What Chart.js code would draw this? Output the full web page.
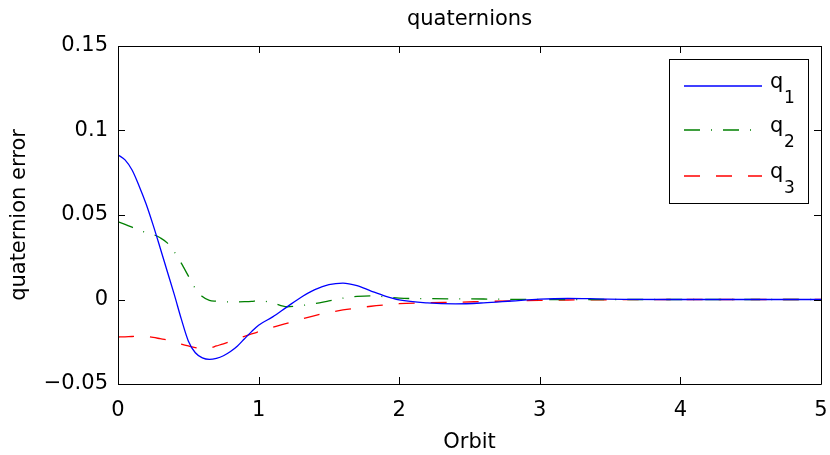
<!DOCTYPE html>
<html>
<head>
<meta charset="utf-8">
<script src="https://cdn.jsdelivr.net/npm/chart.js@4.4.1/dist/chart.umd.min.js"></script>
<style>
html,body{margin:0;padding:0;background:#fff;}
canvas{display:block;}
</style>
</head>
<body>
<canvas id="c" width="830" height="455"></canvas>
<script>
// ---- data ----
const orbit = [0,0.05,0.1,0.15,0.2,0.25,0.3,0.35,0.4,0.45,0.5,0.55,0.6,0.65,0.7,0.75,0.8,0.85,0.9,0.95,1.0,1.1,1.2,1.3,1.4,1.5,1.6,1.7,1.8,1.9,2.0,2.2,2.4,2.6,2.8,3.0,3.2,3.4,3.6,4.0,4.5,5.0];
const q1 = [0.0856,0.0826,0.0766,0.0672,0.0565,0.0440,0.0305,0.0167,0.0030,-0.0115,-0.0245,-0.0315,-0.0345,-0.0354,-0.0348,-0.0333,-0.0308,-0.0275,-0.0232,-0.0190,-0.0152,-0.0103,-0.0045,0.0012,0.0058,0.0088,0.0097,0.0082,0.0050,0.0020,-0.0002,-0.0020,-0.0026,-0.0020,-0.0009,0.0002,0.0006,0.0004,0.0001,0,0,0];
const q2 = [0.0460,0.0445,0.0428,0.0410,0.0396,0.0385,0.0365,0.0335,0.0282,0.0215,0.0140,0.0065,0.0018,-0.0005,-0.0010,-0.0014,-0.0014,-0.0014,-0.0013,-0.0011,-0.0007,-0.0020,-0.0043,-0.0036,-0.0024,-0.0008,0.0008,0.0018,0.0022,0.0016,0.0008,0.0005,0.0004,0.0003,0.0001,0,0,0,0,0,0,0];
const q3 = [-0.0222,-0.0221,-0.0219,-0.0218,-0.0219,-0.0224,-0.0232,-0.0240,-0.0252,-0.0264,-0.0275,-0.0285,-0.0291,-0.0288,-0.0275,-0.0262,-0.0248,-0.0233,-0.0218,-0.0204,-0.0191,-0.0165,-0.0141,-0.0117,-0.0095,-0.0077,-0.0062,-0.0050,-0.0040,-0.0032,-0.0025,-0.0019,-0.0016,-0.0012,-0.0008,-0.0005,-0.0003,-0.0002,-0.0001,0,0,0];
const xTicks = [0,1,2,3,4,5];
const yTicks = [-0.05,0,0.05,0.1,0.15];
const yTickLabels = ['\u22120.05','0','0.05','0.1','0.15'];
const seriesNames = ['q','q','q'];
const seriesSubs = ['1','2','3'];
const titleText = 'quaternions';
const xLabel = 'Orbit';
const yLabel = 'quaternion error';

const FONT = '"DejaVu Sans", sans-serif';
const colors = ['#0000ff','#008000','#ff0000'];
const dashes = [[],[16,11,1,11],[16,16]];

function pts(ys){ return orbit.map((t,i)=>({x:t,y:ys[i]})); }

const frame = {
  id:'frame',
  afterDraw(chart){
    const ctx = chart.ctx, a = chart.chartArea;
    const xs = chart.scales.x, ys = chart.scales.y;
    ctx.save();
    ctx.strokeStyle = '#000'; ctx.lineWidth = 1;
    ctx.beginPath();
    ctx.rect(Math.round(a.left)+0.5, Math.round(a.top)+0.5, Math.round(a.right-a.left), Math.round(a.bottom-a.top));
    ctx.stroke();
    const L = 7;
    ctx.beginPath();
    xTicks.forEach(v=>{
      const px = Math.round(xs.getPixelForValue(v))+0.5;
      ctx.moveTo(px,a.bottom); ctx.lineTo(px,a.bottom-L);
      ctx.moveTo(px,a.top); ctx.lineTo(px,a.top+L);
    });
    yTicks.forEach(v=>{
      const py = Math.round(ys.getPixelForValue(v))+0.5;
      ctx.moveTo(a.left,py); ctx.lineTo(a.left+L,py);
      ctx.moveTo(a.right,py); ctx.lineTo(a.right-L,py);
    });
    ctx.stroke();
    // title and axis labels
    ctx.fillStyle = '#000';
    ctx.textAlign = 'center';
    ctx.textBaseline = 'alphabetic';
    ctx.font = '21px ' + FONT;
    ctx.fillText(titleText, (a.left+a.right)/2, 25);
    ctx.fillText(xLabel, (a.left+a.right)/2, 448);
    ctx.save();
    ctx.translate(20,(a.top+a.bottom)/2);
    ctx.rotate(-Math.PI/2);
    ctx.textBaseline = 'middle';
    ctx.fillText(yLabel,0,0);
    ctx.restore();
    // legend
    const bx=669, by=59, bw=139, bh=144;
    ctx.fillStyle='#fff';
    ctx.fillRect(bx,by,bw,bh);
    ctx.strokeStyle='#000'; ctx.lineWidth=1;
    ctx.strokeRect(bx+0.5,by+0.5,bw,bh);
    const rows=[86,130,176];
    rows.forEach((ry,i)=>{
      ctx.strokeStyle=colors[i]; ctx.lineWidth=1.3;
      ctx.setLineDash(dashes[i]);
      ctx.beginPath(); ctx.moveTo(684,ry); ctx.lineTo(762,ry); ctx.stroke();
      ctx.setLineDash([]);
      ctx.fillStyle='#000'; ctx.textAlign='left'; ctx.textBaseline='alphabetic';
      ctx.font='21px '+FONT;
      ctx.fillText(seriesNames[i],770,ry+2);
      ctx.font='17px '+FONT;
      ctx.fillText(seriesSubs[i],784,ry+17);
    });
    ctx.restore();
  }
};

new Chart(document.getElementById('c'),{
  type:'line',
  data:{datasets:[
    {label:'q1',data:pts(q1),borderColor:colors[0],borderWidth:1.3,borderDash:dashes[0],pointRadius:0,cubicInterpolationMode:'monotone',fill:false},
    {label:'q2',data:pts(q2),borderColor:colors[1],borderWidth:1.3,borderDash:dashes[1],pointRadius:0,cubicInterpolationMode:'monotone',fill:false},
    {label:'q3',data:pts(q3),borderColor:colors[2],borderWidth:1.3,borderDash:dashes[2],pointRadius:0,cubicInterpolationMode:'monotone',fill:false}
  ]},
  options:{
    responsive:false, animation:false, devicePixelRatio:1,
    layout:{padding:{top:46,right:9,left:0,bottom:0}},
    plugins:{legend:{display:false},title:{display:false},tooltip:{enabled:false}},
    scales:{
      x:{type:'linear',min:0,max:5,
        afterBuildTicks(s){ s.ticks = xTicks.map(v=>({value:v})); },
        afterFit(s){ s.height = 71; s.paddingLeft = 0; s.paddingRight = 0; },
        grid:{display:false,drawTicks:false}, border:{display:false},
        ticks:{color:'#000',font:{family:FONT,size:21},padding:14,maxRotation:0,callback:v=>String(v)}},
      y:{type:'linear',min:-0.05,max:0.15,
        afterBuildTicks(s){ s.ticks = yTicks.map(v=>({value:v})); },
        afterFit(s){ s.width = 118; s.paddingTop = 0; s.paddingBottom = 0; },
        grid:{display:false,drawTicks:false}, border:{display:false},
        ticks:{color:'#000',font:{family:FONT,size:21},padding:10,
          callback:(v)=>{ const i=yTicks.findIndex(t=>Math.abs(t-v)<1e-9); return i>=0?yTickLabels[i]:''; }}}
    }
  },
  plugins:[frame]
});
</script>
</body>
</html>
